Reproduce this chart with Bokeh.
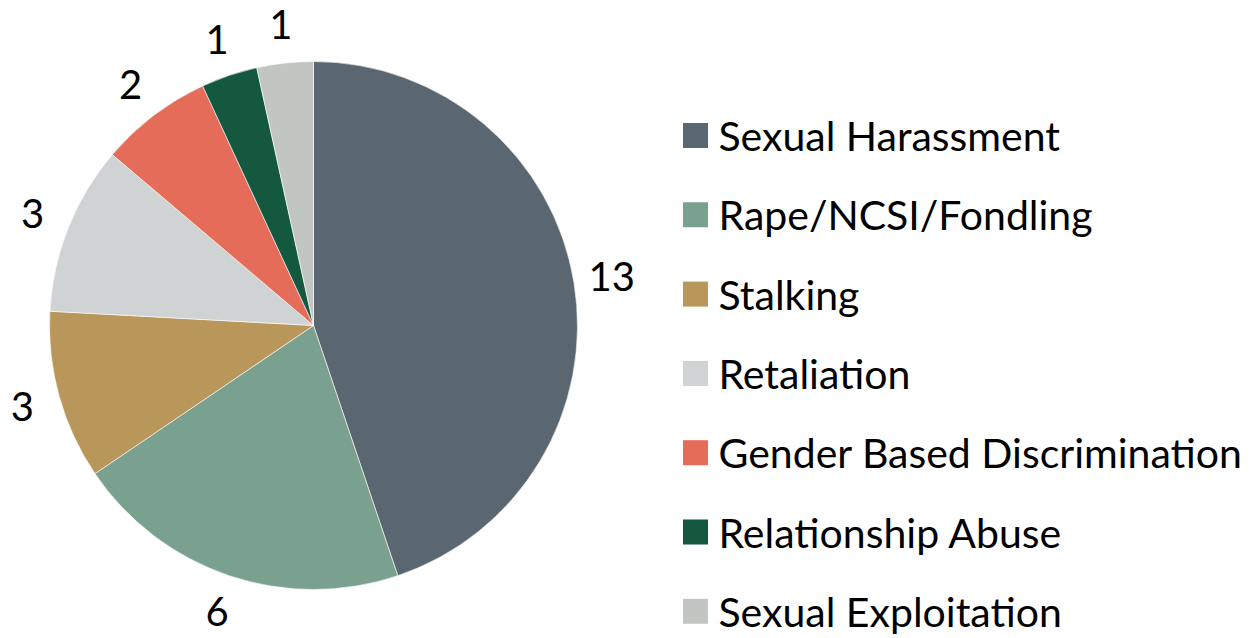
import math
from bokeh.plotting import figure
from bokeh.models import ColumnDataSource
from bokeh.core.properties import value
from bokeh.embed import file_html
from bokeh.resources import INLINE

categories = ["Sexual Harassment", "Rape/NCSI/Fondling", "Stalking", "Retaliation",
              "Gender Based Discrimination", "Relationship Abuse", "Sexual Exploitation"]
counts = [13, 6, 3, 3, 2, 1, 1]
colors = ["#5a6770", "#7aa08f", "#b9965a", "#d0d3d4", "#e46c58", "#145840", "#c1c6c3"]

W, H = 1260, 638
CX, CY, R = 313, 313, 264
FONT = "Lato"

total = sum(counts)
starts, ends, lx, ly = [], [], [], []
cum = 0.0
for c in counts:
    a0 = math.pi / 2 - 2 * math.pi * cum / total
    a1 = math.pi / 2 - 2 * math.pi * (cum + c) / total
    starts.append(a1)
    ends.append(a0)
    mid = (a0 + a1) / 2
    lx.append(CX + 1.145 * R * math.cos(mid))
    ly.append(CY + 1.145 * R * math.sin(mid))
    cum += c

src = ColumnDataSource(dict(cat=categories, n=counts, col=colors, s=starts, e=ends,
                            lx=lx, ly=ly, lab=[str(c) for c in counts]))

p = figure(width=W, height=H, x_range=(0, W), y_range=(0, H), output_backend="svg",
           toolbar_location=None, min_border=0)
p.axis.visible = False
p.grid.visible = False
p.outline_line_color = None
p.background_fill_color = "white"

p.wedge(x=CX, y=CY, radius=R, start_angle="s", end_angle="e", fill_color="col",
        line_color="white", line_width=0.6, source=src)

p.text(x="lx", y="ly", text="lab", source=src, text_align="center", text_baseline="middle",
       text_font=value(FONT), text_font_size="40px", text_color="black")

# legend
leg_y = [H - (135 + 79.3 * i) for i in range(len(categories))]
leg = ColumnDataSource(dict(y=leg_y, cat=categories, col=colors))
p.rect(x=695, y="y", width=25, height=25, fill_color="col", line_color=None, source=leg)
p.text(x=718, y="y", text="cat", source=leg, text_align="left", text_baseline="middle",
       text_font=value(FONT), text_font_size="41px", text_color="black")

open("out.html", "w").write(file_html(p, INLINE))
